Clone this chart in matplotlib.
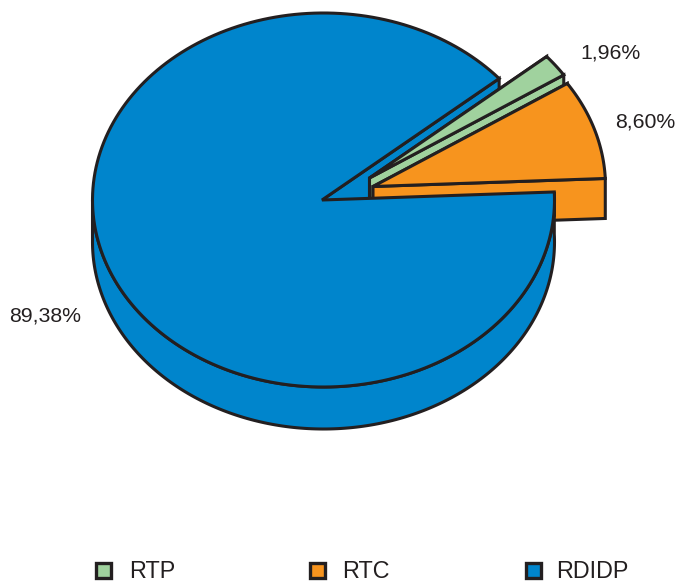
import numpy as np
import matplotlib
matplotlib.use('Agg')
import matplotlib.pyplot as plt
from matplotlib.patches import Polygon, Rectangle

plt.rcParams['font.family'] = ['Liberation Sans', 'DejaVu Sans']

# dane
categories = ['RTP', 'RTC', 'RDIDP']
values = [1.96, 8.60, 89.38]
value_labels = ['1,96%', '8,60%', '89,38%']
colors = ['#A0D29E', '#F7941E', '#0085CC']

EDGE = '#231F20'
LW = 2.2
CX, CY, RX, RY = 323.5, 200, 231, 187
DEPTH = 42
START = 40.5   # kat poczatku niebieskiego wycinka, idzie zgodnie ze wskazowkami


def pt(angle, dx=0, dy=0):
    a = np.radians(angle)
    return CX + RX * np.cos(a) + dx, CY - RY * np.sin(a) + dy


def arc(a0, a1, dx=0, dy=0, n=200):
    a = np.linspace(a0, a1, n)
    x, y = pt(a, dx, dy)
    return np.column_stack([x, y])


def add(ax, pts, color):
    ax.add_patch(Polygon(pts, closed=True, facecolor=color, edgecolor=EDGE,
                         linewidth=LW, joinstyle='miter'))


def wedge_3d(ax, a0, a1, color, dx, dy, depth):
    # a0 < a1, katy w stopniach; scianka z tylu, potem front, potem wierzch
    apex = (CX - 1.5 + dx, CY + dy)
    apex_low = (apex[0], apex[1] + depth)
    add(ax, [apex, pt(a1, dx, dy), pt(a1, dx, dy + depth), apex_low], color)
    add(ax, [apex, pt(a0, dx, dy), pt(a0, dx, dy + depth), apex_low], color)
    add(ax, np.vstack([[apex], arc(a0, a1, dx, dy)]), color)


# katy liczone z wartosci
sweep = [v / sum(values) * 360 for v in values]
blue_a0 = START
blue_a1 = START + sweep[2]
orange_a0 = blue_a1 - 360
orange_a1 = orange_a0 + sweep[1]
green_a0 = orange_a1
green_a1 = green_a0 + sweep[0]

fig = plt.figure(figsize=(6.78, 5.83), dpi=100)
ax = fig.add_axes([0, 0, 1, 1])
ax.set_xlim(0, 678)
ax.set_ylim(583, 0)
ax.axis('off')

apex = (CX - 1.5, CY)
apex_low = (apex[0], apex[1] + DEPTH)

# tylna scianka niebieskiego wycinka
add(ax, [apex, pt(blue_a0), pt(blue_a0, 0, DEPTH), apex_low], colors[2])

wedge_3d(ax, green_a0, green_a1, colors[0], 47.5, -22, DEPTH)
wedge_3d(ax, orange_a0, orange_a1, colors[1], 51, -13.5, 40)

# front i wierzch niebieskiego wycinka
front = np.vstack([arc(180, blue_a1, 0, 0), arc(blue_a1, 180, 0, DEPTH)])
add(ax, front, colors[2])
add(ax, np.vstack([[apex], arc(blue_a0, blue_a1)]), colors[2])

# etykiety wartosci
label_x = [580, 615, 9]
label_y = [53, 122, 316]
for t, x, y in zip(value_labels, label_x, label_y):
    ax.text(x, y, t, fontsize=15.3, color=EDGE, ha='left', va='center')

# legenda
box_x = [96, 310, 526]
text_x = [129, 342, 556]
for name, c, bx, tx in zip(categories, colors, box_x, text_x):
    ax.add_patch(Rectangle((bx, 563), 15, 15, facecolor=c, edgecolor=EDGE,
                           linewidth=2.4))
    ax.text(tx, 571, name, fontsize=16.8, color=EDGE, ha='left', va='center')

fig.savefig('out.png', dpi=100)
